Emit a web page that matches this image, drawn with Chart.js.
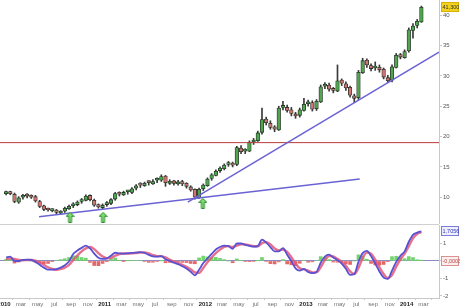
<!DOCTYPE html>
<html>
<head>
<meta charset="utf-8">
<script src="https://cdn.jsdelivr.net/npm/chart.js@4.4.1/dist/chart.umd.min.js"></script>
<style>
  html, body { margin: 0; padding: 0; background: #fff; }
  #wrap { position: relative; width: 460px; height: 308px; overflow: hidden; }
  #priceChart { position: absolute; left: 0; top: 0; }
  #macdChart { position: absolute; left: 0; top: 224px; }
</style>
</head>
<body>
<div id="wrap">
  <canvas id="priceChart" width="460" height="224"></canvas>
  <canvas id="macdChart" width="460" height="84"></canvas>
</div>
<script>
// Semi-monthly candles, Jan 2010 .. Feb 2014 (x = months since Jan 2010)
const closes = [10.8,10.6,9.3,9.9,10.3,10.2,10.0,9.4,8.5,8.0,
  7.9,7.8,7.5,7.6,8.2,8.5,8.9,9.2,9.6,10.2,
  9.6,8.7,8.4,8.7,9.1,9.6,10.6,10.5,10.8,10.9,
  11.4,11.9,12.0,12.3,12.4,12.6,12.9,13.4,12.4,12.6,
  12.3,12.5,12.2,11.8,11.2,10.0,11.3,12.0,13.0,13.7,
  14.3,14.8,15.3,15.6,15.3,18.2,17.5,17.7,19.0,19.4,
  20.6,22.8,22.3,21.5,21.2,24.7,24.9,24.3,23.8,23.4,
  24.4,25.3,25.7,24.5,25.8,28.2,28.6,27.8,27.6,29.2,
  28.8,28.0,26.8,26.3,30.6,32.5,31.8,31.2,31.5,31.0,
  29.8,29.2,31.5,33.4,33.1,34.0,37.6,38.2,39.0,41.3];
const opens = [10.6,10.9,10.5,9.2,10.0,10.4,10.1,10.1,9.3,8.6,
  8.1,7.8,7.9,7.4,7.7,8.1,8.6,8.8,9.3,9.5,
  10.3,9.5,8.8,8.3,8.8,9.0,9.7,10.7,10.4,10.9,
  10.8,11.5,12.2,11.9,12.5,12.2,12.8,12.8,13.5,12.3,
  12.7,12.2,12.6,12.3,11.7,11.3,9.9,11.4,11.9,13.1,
  13.6,14.4,14.7,15.4,15.5,15.4,18.1,17.6,17.6,19.1,
  19.3,20.7,22.9,22.2,21.6,21.1,24.8,24.8,24.4,23.7,
  23.5,24.3,25.4,25.6,24.6,25.7,28.3,28.5,27.9,27.5,
  29.3,28.7,28.1,26.7,26.4,30.5,32.6,31.7,31.3,31.4,
  31.1,29.7,29.3,31.4,33.5,33.0,34.1,37.5,38.3,38.9];
const highs = [11.0,11.0,10.7,10.1,10.5,10.6,10.4,10.3,9.5,8.7,
  8.2,8.1,8.0,7.8,8.4,8.7,9.1,9.4,9.8,10.4,
  10.4,9.7,8.9,8.9,9.3,9.8,10.8,10.9,11.0,11.1,
  11.6,12.1,12.4,12.5,12.7,12.9,13.2,13.7,13.6,12.9,
  12.8,12.8,12.8,12.4,11.9,11.4,11.5,12.2,13.2,13.9,
  14.5,15.0,15.5,15.9,15.8,18.4,18.5,18.0,19.3,19.7,
  20.9,24.7,23.2,22.6,21.8,25.0,25.8,25.2,24.8,24.0,
  24.7,26.3,26.0,25.9,26.1,28.5,28.9,28.8,28.1,31.8,
  29.5,29.0,28.3,27.0,30.9,32.9,32.8,32.0,32.3,31.8,
  31.3,30.1,31.8,33.7,33.7,34.3,37.9,38.6,39.3,41.5];
const lows = [10.4,10.4,9.1,9.0,9.7,9.9,9.8,9.2,8.3,7.8,
  7.7,7.6,7.2,7.2,7.5,8.0,8.3,8.6,9.0,9.4,
  9.4,8.5,8.2,8.1,8.5,8.8,9.5,10.2,10.3,10.5,
  10.6,11.2,11.6,11.8,12.0,12.1,12.4,12.6,11.8,12.1,
  12.0,12.0,11.9,11.5,11.0,9.7,9.8,11.1,11.8,12.8,
  13.5,14.1,14.5,15.1,15.0,15.2,17.2,17.2,17.5,18.7,
  19.2,20.4,21.9,21.2,20.8,21.0,24.4,24.0,23.4,23.0,
  23.2,24.2,25.0,24.2,24.3,25.6,27.9,27.5,27.2,27.4,
  28.4,27.6,26.5,25.6,26.1,30.4,31.4,30.8,30.9,30.6,
  29.5,28.9,29.0,31.3,32.8,32.9,33.9,36.2,37.9,38.8];

// MACD panel
const macdLine = [0.2,0.25,0.0,0.0,0.06,0.08,0.06,-0.05,-0.22,-0.38,
  -0.5,-0.5,-0.46,-0.38,-0.25,-0.02,0.4,0.6,0.75,0.88,
  0.72,0.42,0.18,0.12,0.15,0.3,0.47,0.44,0.42,0.44,
  0.46,0.48,0.51,0.46,0.35,0.27,0.25,0.28,0.1,0.0,
  -0.1,-0.18,-0.3,-0.43,-0.62,-0.82,-0.5,-0.12,0.15,0.4,
  0.66,0.8,0.88,0.85,0.7,1.0,1.0,0.92,0.86,0.82,
  0.85,1.22,1.05,0.8,0.55,0.55,0.74,0.35,0.0,-0.42,
  -0.55,-0.45,-0.63,-0.7,-0.62,-0.1,0.25,0.36,0.2,0.05,
  -0.15,-0.45,-0.8,-0.75,-0.05,0.45,0.58,0.28,-0.15,-0.6,
  -0.95,-1.02,-0.55,-0.05,0.3,0.55,1.1,1.5,1.62,1.7];
const signalLine = [0.1,0.15,0.12,0.06,0.04,0.05,0.06,0.02,-0.08,-0.22,
  -0.36,-0.46,-0.5,-0.46,-0.38,-0.22,0.05,0.32,0.55,0.72,
  0.8,0.68,0.45,0.26,0.16,0.18,0.3,0.4,0.43,0.43,
  0.44,0.46,0.48,0.49,0.43,0.34,0.28,0.27,0.2,0.08,
  -0.03,-0.12,-0.22,-0.34,-0.48,-0.66,-0.68,-0.4,-0.08,0.2,
  0.45,0.65,0.8,0.85,0.8,0.88,0.96,0.95,0.9,0.85,
  0.84,1.02,1.08,0.95,0.72,0.6,0.66,0.52,0.22,-0.15,
  -0.42,-0.48,-0.56,-0.65,-0.65,-0.35,0.05,0.28,0.26,0.12,
  -0.05,-0.28,-0.6,-0.75,-0.4,0.18,0.48,0.42,0.08,-0.36,
  -0.75,-0.98,-0.8,-0.32,0.1,0.42,0.85,1.3,1.55,1.65];
const histogram = [0.1,0.1,-0.12,-0.06,0.02,0.03,0.0,-0.07,-0.14,-0.16,
  -0.14,-0.04,0.04,0.08,0.13,0.2,0.3,0.28,0.2,0.16,
  -0.08,-0.26,-0.27,-0.14,-0.01,0.12,0.17,0.04,-0.01,0.01,
  0.02,0.02,0.03,-0.03,-0.08,-0.07,-0.03,0.01,-0.1,-0.08,
  -0.07,-0.06,-0.08,-0.09,-0.14,-0.16,0.18,0.28,0.23,0.2,
  0.21,0.15,0.08,0.0,-0.1,0.12,0.04,-0.03,-0.04,-0.03,
  0.01,0.2,-0.03,-0.15,-0.17,-0.05,0.08,-0.17,-0.22,-0.27,
  -0.13,0.03,-0.07,-0.05,0.03,0.25,0.2,0.08,-0.06,-0.07,
  -0.1,-0.17,-0.2,0.0,0.35,0.27,0.1,-0.14,-0.23,-0.24,
  -0.2,-0.04,0.25,0.27,0.2,0.13,0.25,0.2,0.07,0.05];

// trendlines, support level, signal arrows
const trendLow = [{ x: 4.17, y: 6.8 }, { x: 42.4, y: 13.0 }];
const trendHigh = [{ x: 21.9, y: 9.2 }, { x: 51.85, y: 33.9 }];
const supportLevel = 19.0;
const arrowPoints = [{ x: 7.87, y: 6.7 }, { x: 11.8, y: 6.7 }, { x: 23.7, y: 9.0 }];

// axes
const tickMonths = [0,2,4,6,8,10,12,14,16,18,20,22,24,26,28,30,32,34,36,38,40,42,44,46,48,50];
const tickLabels = ['2010','mar','may','jul','sep','nov','2011','mar','may','jul','sep','nov',
  '2012','mar','may','jul','sep','nov','2013','mar','may','jul','sep','nov','2014','mar'];
const priceTicks = [10, 15, 20, 25, 30, 35, 40];
const macdTicks = [-2, -1, 0, 1];
const priceTag = { value: 41.3, text: '41,300' };
const macdTags = [{ value: 1.7056, text: '1,7056' }, { value: -0.0003, text: '-0,0003' }];

const X_MIN = -0.48, X_MAX = 51.85;
const FONT = 'Arial, "Liberation Sans", sans-serif';

const candleMonths = closes.map((_, i) => 0.25 + i * 0.5);

function makeArrow() {
    const c = document.createElement('canvas');
    c.width = 9; c.height = 11;
    const g = c.getContext('2d');
    g.beginPath();
    g.moveTo(4.5, 0.5); g.lineTo(8.5, 4.5); g.lineTo(6, 4.5); g.lineTo(6, 10.5);
    g.lineTo(3, 10.5); g.lineTo(3, 4.5); g.lineTo(0.5, 4.5); g.closePath();
    g.fillStyle = '#7fdc70'; g.fill();
    g.strokeStyle = '#2f8a2f'; g.lineWidth = 1; g.stroke();
    return c;
}

// value boxes right of the plot, plus the panel separator
const tagPlugin = {
    id: 'valueTags',
    afterDraw(chart, args, opts) {
        const { ctx, chartArea, scales } = chart;
        (opts.tags || []).forEach(tag => {
            const y = Math.round(scales.y.getPixelForValue(tag.value));
            ctx.save();
            ctx.font = '5.5px ' + FONT;
            const w = Math.min(Math.ceil(ctx.measureText(tag.text).width) + 3, chart.width - chartArea.right - 3);
            const x = chartArea.right + 2;
            ctx.fillStyle = tag.bg;
            ctx.fillRect(x, y - 5, w, 10);
            ctx.strokeStyle = tag.border;
            ctx.lineWidth = 1;
            ctx.strokeRect(x + 0.5, y - 4.5, w - 1, 9);
            ctx.fillStyle = tag.color;
            ctx.textBaseline = 'middle';
            ctx.fillText(tag.text, x + 1.5, y + 0.5);
            ctx.restore();
        });
        if (opts.topLine) {
            ctx.save();
            ctx.strokeStyle = '#d0d0d0';
            ctx.lineWidth = 1;
            ctx.beginPath();
            ctx.moveTo(0, chartArea.top - 0.5);
            ctx.lineTo(chartArea.right, chartArea.top - 0.5);
            ctx.stroke();
            ctx.restore();
        }
    }
};

const noPad = a => { a.paddingTop = 0; a.paddingBottom = 0; a.paddingLeft = 0; a.paddingRight = 0; };

const xScale = (display) => ({
    type: 'linear',
    display: display,
    min: X_MIN,
    max: X_MAX,
    offset: false,
    afterBuildTicks: a => { a.ticks = tickMonths.map(v => ({ value: v })); },
    afterFit: a => { noPad(a); if (display) a.height = 10; },
    grid: { drawOnChartArea: false, tickLength: 2, color: '#c8c8c8' },
    border: { display: true, color: '#c8c8c8' },
    ticks: {
        autoSkip: false,
        maxRotation: 0,
        padding: 1,
        callback: (v, i) => tickLabels[i],
        color: c => (c.tick && c.tick.value % 12 === 0) ? '#222' : '#6f6f6f',
        font: c => ({ size: 6, family: FONT, weight: (c.tick && c.tick.value % 12 === 0) ? 'bold' : 'normal' })
    }
});

const yScale = (min, max, ticks, extra) => Object.assign({
    position: 'right',
    min: min,
    max: max,
    afterBuildTicks: a => { a.ticks = ticks.map(v => ({ value: v })); },
    afterFit: a => { noPad(a); a.width = 21; },
    grid: { drawOnChartArea: false, tickLength: 3, color: '#c8c8c8' },
    border: { display: true, color: '#c8c8c8' },
    ticks: { padding: 1, color: '#555', font: { size: 6, family: FONT } }
}, extra || {});

const priceChart = new Chart(document.getElementById('priceChart'), {
    type: 'bar',
    data: {
        datasets: [
            {
                type: 'scatter',
                data: arrowPoints,
                pointStyle: makeArrow(),
                pointRadius: 5,
                order: 0
            },
            {
                type: 'line',
                data: trendLow,
                borderColor: '#6b63d4',
                borderWidth: 1.5,
                pointRadius: 0,
                order: 1
            },
            {
                type: 'line',
                data: trendHigh,
                borderColor: '#6b63d4',
                borderWidth: 1.5,
                pointRadius: 0,
                order: 1
            },
            {
                type: 'line',
                data: [{ x: X_MIN, y: supportLevel }, { x: X_MAX, y: supportLevel }],
                borderColor: '#b83a3a',
                borderWidth: 1,
                pointRadius: 0,
                order: 1
            },
            {
                label: 'body',
                data: candleMonths.map((m, i) => ({ x: m, y: [opens[i], closes[i]] })),
                backgroundColor: closes.map((c, i) => c >= opens[i] ? '#4fa64f' : '#d27474'),
                borderColor: '#263326',
                borderWidth: 0.8,
                borderSkipped: false,
                barThickness: 3.6,
                minBarLength: 2,
                grouped: false,
                order: 2
            },
            {
                label: 'wick',
                data: candleMonths.map((m, i) => ({ x: m, y: [lows[i], highs[i]] })),
                backgroundColor: '#3a3a3a',
                barThickness: 1,
                grouped: false,
                order: 3
            }
        ]
    },
    options: {
        responsive: false,
        animation: false,
        layout: { autoPadding: false, padding: { top: 0, bottom: 1, left: 0, right: 0 } },
        plugins: {
            legend: { display: false },
            tooltip: { enabled: false },
            valueTags: { tags: [{ ...priceTag, bg: '#f2d21a', border: '#d8b000', color: '#333' }] }
        },
        scales: {
            x: xScale(false),
            y: yScale(5.76, 42.5, priceTicks)
        }
    },
    plugins: [tagPlugin]
});

const macdChart = new Chart(document.getElementById('macdChart'), {
    type: 'bar',
    data: {
        datasets: [
            {
                type: 'line',
                data: candleMonths.map((m, i) => ({ x: m, y: macdLine[i] })),
                borderColor: '#5a50d2',
                borderWidth: 1.8,
                pointRadius: 0,
                cubicInterpolationMode: 'monotone',
                order: 1
            },
            {
                type: 'line',
                data: candleMonths.map((m, i) => ({ x: m, y: signalLine[i] })),
                borderColor: 'rgba(226, 88, 120, 0.85)',
                borderWidth: 2.4,
                pointRadius: 0,
                cubicInterpolationMode: 'monotone',
                order: 2
            },
            {
                data: candleMonths.map((m, i) => ({ x: m, y: histogram[i] })),
                backgroundColor: histogram.map(v => v >= 0 ? '#74d46e' : '#e56666'),
                barThickness: 3,
                grouped: false,
                order: 3
            }
        ]
    },
    options: {
        responsive: false,
        animation: false,
        layout: { autoPadding: false, padding: { top: 1, bottom: 0, left: 0, right: 0 } },
        plugins: {
            legend: { display: false },
            tooltip: { enabled: false },
            valueTags: {
                topLine: true,
                tags: [
                    { ...macdTags[0], bg: '#eef0ff', border: '#7c7cd8', color: '#3535b8' },
                    { ...macdTags[1], bg: '#fdeeee', border: '#d89090', color: '#b84040' }
                ]
            }
        },
        scales: {
            x: xScale(true),
            y: yScale(-2.12, 2.06, macdTicks, {
                grid: {
                    drawOnChartArea: true,
                    tickLength: 3,
                    color: c => (c.tick && c.tick.value === 0) ? '#8c8cc0' : 'rgba(0,0,0,0)',
                    tickColor: '#c8c8c8'
                },
                ticks: {
                    padding: 1,
                    color: '#555',
                    font: { size: 6, family: FONT },
                    callback: v => v === 0 ? '' : String(v)
                }
            })
        }
    },
    plugins: [tagPlugin]
});
</script>
</body>
</html>
